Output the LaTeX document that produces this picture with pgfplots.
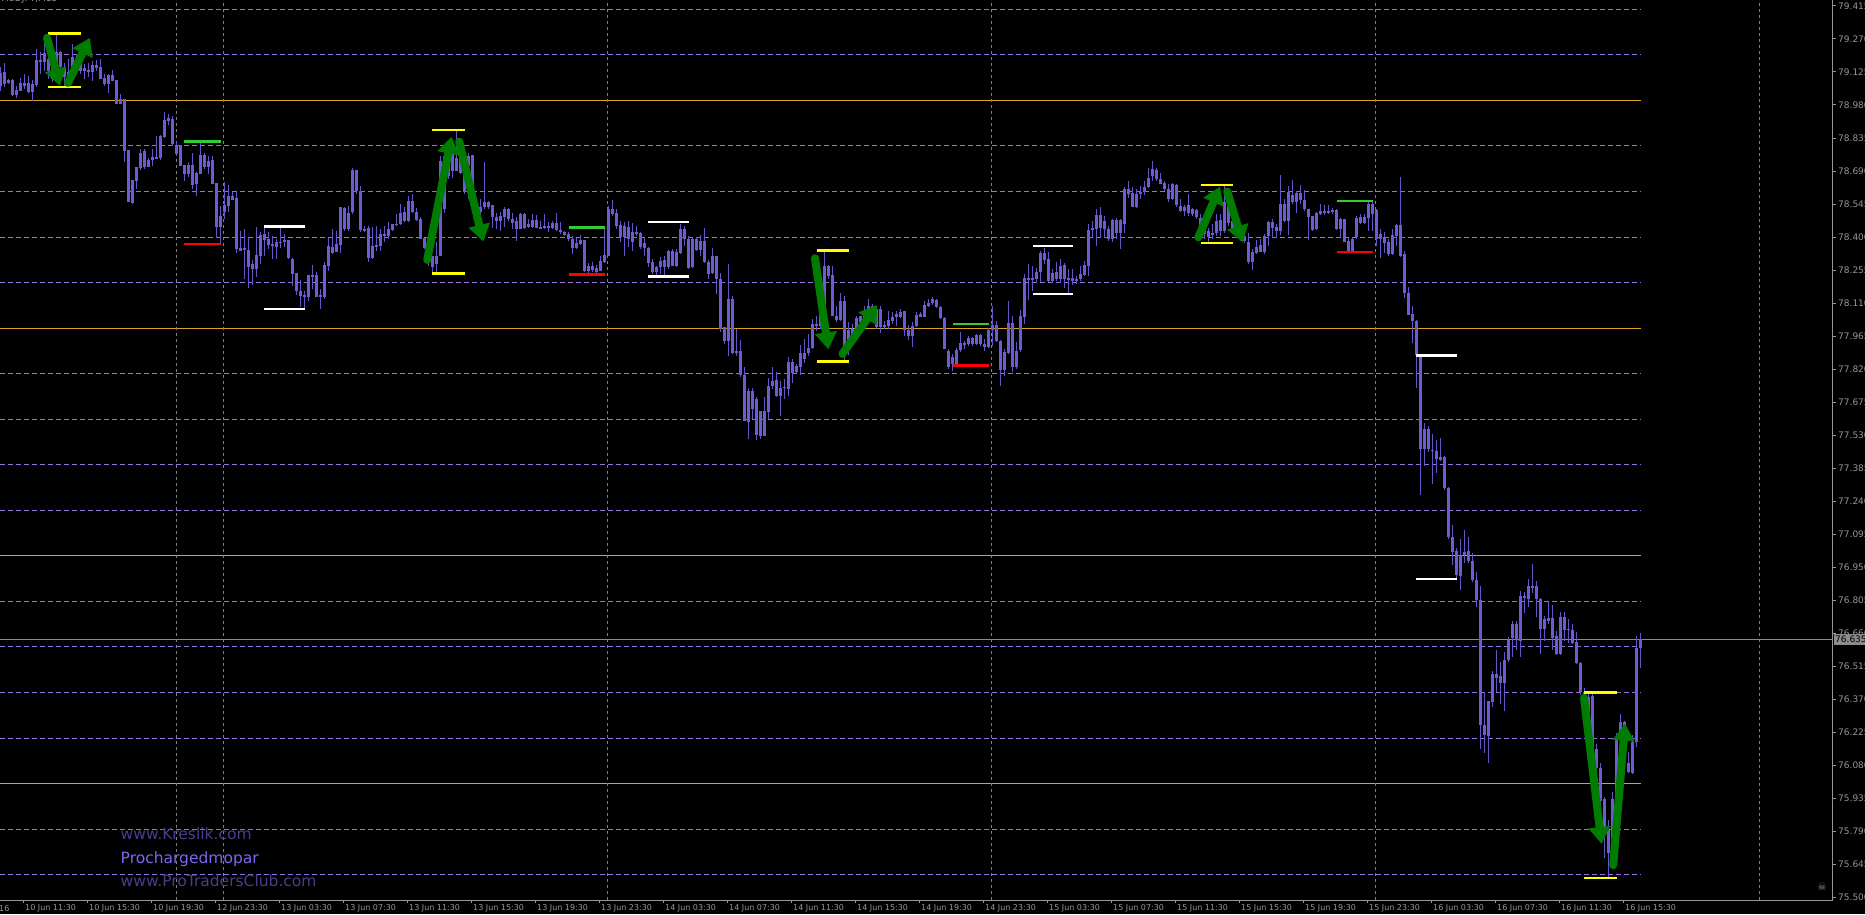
\documentclass[border=0pt]{standalone}
\usepackage{fontspec}
\setmainfont{DejaVu Sans}
\usepackage{pgfplots}
\pgfplotsset{compat=1.18}
\usepackage{pgfplotstable}
\usetikzlibrary{arrows.meta}
\pgfdeclarelayer{background}
\pgfsetlayers{background,main}

\definecolor{candle}{RGB}{100,86,200}
\definecolor{candlebody}{RGB}{106,92,212}
\definecolor{gridpurple}{RGB}{147,112,219}
\definecolor{goldline}{RGB}{218,165,32}
\definecolor{sepgray}{RGB}{128,128,128}
\definecolor{axgray}{RGB}{150,150,150}
\definecolor{priceg}{RGB}{140,140,140}
\definecolor{arrowgreen}{RGB}{0,125,0}
\definecolor{lvlgreen}{RGB}{50,205,50}
\definecolor{lvlred}{RGB}{255,0,0}
\definecolor{lvlyellow}{RGB}{255,255,0}
\definecolor{lvlwhite}{RGB}{255,255,255}
\definecolor{kres}{RGB}{72,61,139}
\definecolor{proch}{RGB}{123,104,238}

% i = bar index (15 min), h = high, l = low, o/c = body ends
\pgfplotstableread{
i h l o c
0 79.146 79.043 79.121 79.062
1 79.167 79.058 79.127 79.072
2 79.094 79.072 79.090 79.077
3 79.094 79.021 79.090 79.026
4 79.062 79.011 79.046 79.026
5 79.097 79.043 79.077 79.043
6 79.116 79.053 79.077 79.062
7 79.109 79.036 79.077 79.040
8 79.090 78.999 79.071 79.039
9 79.226 79.062 79.178 79.068
10 79.211 79.116 79.178 79.170
11 79.255 79.131 79.208 79.170
12 79.211 79.094 79.182 79.131
13 79.189 79.080 79.153 79.094
14 79.293 79.131 79.211 79.146
15 79.219 79.094 79.211 79.146
16 79.167 79.059 79.146 79.102
17 79.182 79.059 79.124 79.080
18 79.248 79.109 79.189 79.138
19 79.204 79.131 79.182 79.153
20 79.175 79.116 79.160 79.131
21 79.160 79.094 79.143 79.131
22 79.167 79.102 79.135 79.127
23 79.172 79.083 79.156 79.127
24 79.178 79.131 79.156 79.143
25 79.182 79.094 79.146 79.094
26 79.116 79.065 79.099 79.072
27 79.116 79.033 79.112 79.072
28 79.134 79.087 79.112 79.087
29 79.090 78.985 79.090 78.985
30 79.028 78.985 79.007 78.985
31 79.007 78.729 79.007 78.780
32 78.783 78.556 78.783 78.556
33 78.651 78.546 78.651 78.550
34 78.707 78.612 78.707 78.648
35 78.787 78.696 78.772 78.704
36 78.787 78.699 78.780 78.707
37 78.746 78.707 78.739 78.710
38 78.787 78.714 78.751 78.739
39 78.846 78.746 78.751 78.746
40 78.849 78.739 78.843 78.748
41 78.952 78.838 78.914 78.838
42 78.941 78.892 78.923 78.911
43 78.933 78.802 78.919 78.809
44 78.819 78.761 78.806 78.765
45 78.806 78.714 78.806 78.714
46 78.717 78.648 78.717 78.677
47 78.729 78.663 78.717 78.677
48 78.772 78.612 78.717 78.631
49 78.685 78.582 78.682 78.633
50 78.813 78.677 78.761 78.677
51 78.770 78.702 78.761 78.707
52 78.758 78.677 78.736 78.707
53 78.758 78.633 78.739 78.633
54 78.638 78.399 78.638 78.446
55 78.538 78.377 78.492 78.446
56 78.644 78.480 78.541 78.509
57 78.629 78.509 78.579 78.535
58 78.600 78.563 78.582 78.563
59 78.600 78.331 78.571 78.348
60 78.429 78.341 78.351 78.341
61 78.436 78.217 78.351 78.345
62 78.395 78.176 78.344 78.268
63 78.301 78.190 78.285 78.260
64 78.443 78.224 78.322 78.260
65 78.421 78.282 78.410 78.319
66 78.454 78.319 78.414 78.389
67 78.421 78.348 78.392 78.366
68 78.404 78.304 78.370 78.363
69 78.392 78.304 78.377 78.356
70 78.443 78.351 78.380 78.375
71 78.414 78.356 78.389 78.377
72 78.389 78.304 78.389 78.307
73 78.307 78.187 78.307 78.238
74 78.243 78.146 78.243 78.165
75 78.214 78.092 78.165 78.143
76 78.165 78.085 78.148 78.140
77 78.234 78.121 78.234 78.140
78 78.278 78.173 78.234 78.228
79 78.249 78.136 78.234 78.140
80 78.173 78.085 78.146 78.136
81 78.293 78.129 78.278 78.136
82 78.395 78.253 78.360 78.275
83 78.436 78.326 78.356 78.331
84 78.429 78.334 78.370 78.334
85 78.535 78.333 78.535 78.367
86 78.535 78.428 78.528 78.436
87 78.538 78.428 78.504 78.436
88 78.702 78.501 78.694 78.509
89 78.694 78.592 78.694 78.604
90 78.623 78.424 78.604 78.431
91 78.450 78.421 78.436 78.428
92 78.450 78.289 78.439 78.311
93 78.446 78.307 78.363 78.311
94 78.450 78.341 78.365 78.360
95 78.436 78.338 78.414 78.360
96 78.450 78.380 78.414 78.406
97 78.468 78.392 78.436 78.406
98 78.458 78.428 78.458 78.433
99 78.501 78.450 78.458 78.455
100 78.545 78.453 78.509 78.458
101 78.535 78.468 78.509 78.472
102 78.582 78.468 78.557 78.472
103 78.592 78.509 78.557 78.512
104 78.531 78.472 78.509 78.477
105 78.487 78.392 78.480 78.395
106 78.399 78.348 78.395 78.355
107 78.370 78.275 78.363 78.304
108 78.319 78.240 78.319 78.268
109 78.377 78.246 78.319 78.282
110 78.757 78.319 78.735 78.319
111 78.772 78.509 78.757 78.523
112 78.823 78.655 78.787 78.670
113 78.816 78.662 78.787 78.692
114 78.871 78.692 78.750 78.692
115 78.801 78.677 78.787 78.684
116 78.728 78.589 78.713 78.597
117 78.772 78.567 78.757 78.713
118 78.760 78.538 78.760 78.553
119 78.567 78.494 78.553 78.509
120 78.567 78.480 78.531 78.509
121 78.731 78.523 78.553 78.531
122 78.560 78.523 78.553 78.531
123 78.541 78.443 78.541 78.487
124 78.509 78.436 78.491 78.472
125 78.509 78.428 78.494 78.472
126 78.531 78.443 78.523 78.487
127 78.531 78.472 78.523 78.480
128 78.509 78.436 78.480 78.462
129 78.487 78.384 78.469 78.436
130 78.509 78.436 78.501 78.436
131 78.509 78.436 78.501 78.439
132 78.480 78.443 78.458 78.446
133 78.501 78.443 78.477 78.446
134 78.497 78.439 78.477 78.443
135 78.472 78.436 78.446 78.440
136 78.501 78.436 78.450 78.443
137 78.468 78.421 78.450 78.443
138 78.472 78.436 78.462 78.439
139 78.506 78.428 78.462 78.433
140 78.465 78.414 78.431 78.421
141 78.428 78.404 78.421 78.409
142 78.424 78.384 78.414 78.392
143 78.406 78.326 78.392 78.355
144 78.399 78.348 78.374 78.355
145 78.409 78.363 78.389 78.370
146 78.389 78.246 78.389 78.249
147 78.289 78.238 78.275 78.253
148 78.292 78.246 78.275 78.257
149 78.279 78.243 78.265 78.250
150 78.319 78.249 78.297 78.253
151 78.443 78.289 78.322 78.292
152 78.538 78.319 78.523 78.319
153 78.563 78.494 78.523 78.501
154 78.523 78.436 78.506 78.450
155 78.472 78.377 78.453 78.399
156 78.468 78.316 78.450 78.399
157 78.472 78.355 78.446 78.392
158 78.462 78.341 78.421 78.380
159 78.450 78.406 78.421 78.417
160 78.421 78.348 78.417 78.355
161 78.395 78.316 78.377 78.351
162 78.355 78.268 78.351 78.285
163 78.307 78.238 78.289 78.246
164 78.275 78.231 78.268 78.246
165 78.311 78.238 78.297 78.268
166 78.319 78.231 78.300 78.268
167 78.345 78.260 78.341 78.268
168 78.348 78.272 78.341 78.275
169 78.348 78.268 78.333 78.275
170 78.457 78.326 78.435 78.330
171 78.450 78.362 78.435 78.391
172 78.403 78.260 78.394 78.264
173 78.399 78.263 78.394 78.267
174 78.403 78.340 78.391 78.344
175 78.409 78.318 78.384 78.344
176 78.438 78.285 78.384 78.289
177 78.299 78.216 78.292 78.238
178 78.352 78.238 78.318 78.241
179 78.318 78.150 78.318 78.216
180 78.241 77.982 78.216 77.997
181 78.004 77.931 78.004 77.946
182 78.282 77.880 78.128 77.946
183 78.143 77.888 78.128 77.892
184 77.997 77.880 77.902 77.892
185 77.949 77.785 77.902 77.793
186 77.829 77.591 77.793 77.591
187 77.737 77.515 77.723 77.588
188 77.737 77.603 77.727 77.647
189 77.698 77.511 77.688 77.530
190 77.639 77.515 77.639 77.530
191 77.698 77.527 77.639 77.530
192 77.781 77.603 77.746 77.632
193 77.829 77.734 77.771 77.746
194 77.810 77.698 77.771 77.702
195 77.771 77.617 77.737 77.702
196 77.778 77.690 77.744 77.737
197 77.873 77.705 77.851 77.734
198 77.866 77.760 77.851 77.804
199 77.844 77.804 77.834 77.810
200 77.927 77.793 77.892 77.829
201 77.953 77.851 77.892 77.866
202 77.975 77.880 77.914 77.892
203 78.041 77.909 78.019 77.912
204 78.055 77.990 78.019 78.012
205 78.070 77.997 78.070 78.012
206 78.340 78.055 78.274 78.070
207 78.277 78.216 78.274 78.231
208 78.274 78.055 78.234 78.055
209 78.099 78.026 78.055 78.038
210 78.153 78.034 78.121 78.038
211 78.143 77.854 78.121 77.895
212 78.026 77.880 77.990 77.909
213 78.019 77.953 77.997 77.968
214 78.055 77.990 78.044 77.997
215 78.055 77.997 78.055 78.026
216 78.099 78.026 78.070 78.041
217 78.126 78.070 78.099 78.070
218 78.107 78.063 78.099 78.085
219 78.099 77.997 78.082 78.004
220 78.099 77.980 78.085 78.004
221 78.034 77.997 78.012 78.004
222 78.077 77.997 78.038 78.009
223 78.070 78.019 78.051 78.034
224 78.077 78.012 78.063 78.051
225 78.085 78.048 78.074 78.052
226 78.077 77.968 78.074 77.990
227 78.012 77.946 77.993 77.968
228 78.026 77.917 78.012 77.968
229 78.070 78.004 78.060 78.012
230 78.070 78.048 78.063 78.051
231 78.121 78.048 78.102 78.051
232 78.128 78.092 78.111 78.099
233 78.139 78.102 78.128 78.111
234 78.128 78.088 78.124 78.092
235 78.099 78.041 78.092 78.044
236 78.048 77.909 78.044 77.909
237 77.909 77.822 77.902 77.829
238 77.888 77.810 77.873 77.844
239 77.912 77.836 77.905 77.836
240 77.985 77.895 77.936 77.902
241 77.946 77.909 77.936 77.924
242 77.968 77.924 77.956 77.931
243 77.961 77.924 77.956 77.931
244 77.975 77.924 77.968 77.931
245 77.975 77.921 77.968 77.931
246 77.953 77.902 77.931 77.917
247 78.000 77.912 77.994 77.917
248 78.099 77.924 78.012 77.994
249 78.031 77.939 78.012 77.942
250 77.946 77.746 77.942 77.815
251 77.909 77.790 77.895 77.815
252 78.121 77.888 78.023 77.892
253 78.055 77.807 78.023 77.829
254 77.939 77.822 77.902 77.829
255 78.080 77.898 78.055 77.902
256 78.238 78.019 78.220 78.051
257 78.282 78.126 78.223 78.216
258 78.274 78.165 78.223 78.216
259 78.267 78.201 78.245 78.216
260 78.340 78.201 78.330 78.245
261 78.355 78.282 78.330 78.301
262 78.333 78.201 78.304 78.209
263 78.260 78.201 78.242 78.209
264 78.289 78.209 78.245 78.216
265 78.304 78.201 78.274 78.216
266 78.289 78.180 78.277 78.216
267 78.260 78.155 78.219 78.216
268 78.260 78.190 78.219 78.209
269 78.231 78.194 78.216 78.209
270 78.274 78.209 78.238 78.216
271 78.296 78.231 78.277 78.234
272 78.457 78.231 78.431 78.272
273 78.472 78.399 78.439 78.432
274 78.523 78.362 78.496 78.435
275 78.534 78.394 78.496 78.439
276 78.493 78.399 78.469 78.435
277 78.450 78.384 78.435 78.391
278 78.479 78.380 78.474 78.391
279 78.486 78.391 78.474 78.420
280 78.479 78.347 78.474 78.420
281 78.618 78.420 78.613 78.460
282 78.647 78.574 78.613 78.588
283 78.618 78.530 78.596 78.534
284 78.610 78.530 78.591 78.534
285 78.625 78.566 78.600 78.588
286 78.647 78.588 78.622 78.599
287 78.705 78.618 78.661 78.622
288 78.734 78.647 78.698 78.669
289 78.705 78.647 78.693 78.654
290 78.683 78.632 78.657 78.635
291 78.647 78.603 78.637 78.613
292 78.632 78.552 78.613 78.569
293 78.639 78.566 78.635 78.569
294 78.632 78.534 78.628 78.540
295 78.566 78.508 78.540 78.515
296 78.540 78.493 78.534 78.515
297 78.588 78.493 78.540 78.508
298 78.530 78.493 78.523 78.501
299 78.523 78.479 78.518 78.486
300 78.501 78.420 78.486 78.435
301 78.464 78.391 78.450 78.413
302 78.442 78.375 78.428 78.399
303 78.457 78.391 78.420 78.409
304 78.501 78.403 78.472 78.420
305 78.501 78.403 78.476 78.428
306 78.629 78.420 78.552 78.428
307 78.566 78.450 78.537 78.464
308 78.493 78.413 78.472 78.428
309 78.457 78.399 78.450 78.413
310 78.435 78.384 78.428 78.406
311 78.413 78.377 78.406 78.384
312 78.418 78.282 78.377 78.292
313 78.347 78.257 78.336 78.292
314 78.388 78.326 78.359 78.333
315 78.391 78.333 78.365 78.336
316 78.413 78.326 78.403 78.336
317 78.472 78.362 78.467 78.403
318 78.479 78.399 78.467 78.442
319 78.457 78.399 78.447 78.428
320 78.672 78.409 78.545 78.428
321 78.566 78.467 78.545 78.472
322 78.625 78.409 78.596 78.472
323 78.651 78.545 78.588 78.555
324 78.603 78.508 78.596 78.555
325 78.632 78.545 78.596 78.563
326 78.607 78.515 78.566 78.523
327 78.526 78.388 78.523 78.491
328 78.496 78.428 78.493 78.432
329 78.508 78.432 78.505 78.435
330 78.545 78.496 78.515 78.501
331 78.540 78.496 78.515 78.508
332 78.540 78.501 78.515 78.508
333 78.530 78.501 78.518 78.508
334 78.523 78.432 78.518 78.435
335 78.486 78.399 78.479 78.435
336 78.482 78.377 78.479 78.380
337 78.399 78.336 78.384 78.340
338 78.399 78.336 78.394 78.340
339 78.493 78.391 78.486 78.399
340 78.501 78.457 78.489 78.461
341 78.501 78.457 78.489 78.461
342 78.552 78.428 78.545 78.486
343 78.559 78.428 78.545 78.501
344 78.523 78.362 78.518 78.394
345 78.435 78.311 78.413 78.391
346 78.423 78.333 78.403 78.377
347 78.391 78.318 78.377 78.326
348 78.438 78.321 78.409 78.326
349 78.457 78.362 78.453 78.406
350 78.664 78.312 78.453 78.318
351 78.339 78.131 78.328 78.156
352 78.183 78.059 78.156 78.059
353 78.100 77.935 78.063 78.034
354 78.038 77.738 78.034 77.883
355 77.883 77.267 77.883 77.468
356 77.586 77.396 77.557 77.468
357 77.572 77.458 77.557 77.468
358 77.537 77.317 77.468 77.462
359 77.510 77.365 77.462 77.427
360 77.516 77.416 77.437 77.423
361 77.441 77.292 77.433 77.298
362 77.302 77.074 77.298 77.085
363 77.136 76.960 77.085 77.016
364 77.033 76.902 77.022 76.915
365 77.074 76.852 77.006 76.915
366 77.116 76.971 77.018 77.006
367 77.085 76.971 77.022 76.977
368 77.012 76.888 76.977 76.894
369 76.929 76.774 76.894 76.805
370 76.867 76.152 76.805 76.260
371 76.401 76.135 76.260 76.214
372 76.363 76.090 76.363 76.210
373 76.494 76.338 76.483 76.359
374 76.587 76.401 76.483 76.467
375 76.535 76.349 76.473 76.442
376 76.577 76.318 76.542 76.442
377 76.645 76.535 76.633 76.542
378 76.716 76.556 76.701 76.639
379 76.712 76.587 76.701 76.629
380 76.846 76.556 76.826 76.629
381 76.840 76.749 76.826 76.815
382 76.898 76.778 76.867 76.811
383 76.964 76.840 76.867 76.861
384 76.888 76.732 76.867 76.811
385 76.815 76.571 76.811 76.680
386 76.736 76.629 76.722 76.680
387 76.799 76.701 76.728 76.716
388 76.784 76.587 76.728 76.639
389 76.670 76.566 76.649 76.571
390 76.753 76.566 76.732 76.571
391 76.753 76.629 76.732 76.674
392 76.722 76.618 76.680 76.674
393 76.701 76.612 76.674 76.618
394 76.666 76.525 76.624 76.529
395 76.535 76.390 76.529 76.401
396 76.421 76.359 76.401 76.380
397 76.401 76.235 76.380 76.255
398 76.401 76.131 76.384 76.152
399 76.173 76.048 76.152 76.069
400 76.090 75.882 76.069 75.924
401 75.944 75.675 75.934 75.799
402 75.841 75.586 75.799 75.696
403 75.965 75.696 75.934 75.758
404 76.224 75.913 76.193 75.924
405 76.307 76.183 76.272 76.193
406 76.276 76.235 76.272 76.255
407 76.141 76.048 76.090 76.052
408 76.214 76.044 76.183 76.048
409 76.649 76.162 76.597 76.183
410 76.660 76.508 76.635 76.597
}\candles

\begin{document}
\begin{tikzpicture}[x=1pt,y=1pt]
\begin{axis}[
  scale only axis, width=1833pt, height=900pt,
  xmin=-0.2, xmax=458.05, ymin=75.489, ymax=79.441,
  axis x line*=bottom, axis y line*=right,
  axis line style={draw=axgray, line width=1pt},
  clip mode=individual,
  tick align=outside, major tick length=3pt,
  tick style={draw=axgray, line width=1pt},
  xtick={5.8,21.8,37.8,53.8,69.8,85.8,101.8,117.8,133.8,149.8,165.8,181.8,197.8,213.8,229.8,245.8,261.8,277.8,293.8,309.8,325.8,341.8,357.8,373.8,389.8,405.8},
  xticklabels={10 Jun 11:30,10 Jun 15:30,10 Jun 19:30,12 Jun 23:30,13 Jun 03:30,13 Jun 07:30,13 Jun 11:30,13 Jun 15:30,13 Jun 19:30,13 Jun 23:30,14 Jun 03:30,14 Jun 07:30,14 Jun 11:30,14 Jun 15:30,14 Jun 19:30,14 Jun 23:30,15 Jun 03:30,15 Jun 07:30,15 Jun 11:30,15 Jun 15:30,15 Jun 19:30,15 Jun 23:30,16 Jun 03:30,16 Jun 07:30,16 Jun 11:30,16 Jun 15:30},
  xticklabel style={anchor=north west, inner sep=1pt, font=\fontsize{8}{8}\selectfont, text=axgray},
  ytick={75.5,75.645,75.79,75.935,76.08,76.225,76.37,76.515,76.66,76.805,76.95,77.095,77.24,77.385,77.53,77.675,77.82,77.965,78.11,78.255,78.4,78.545,78.69,78.835,78.98,79.125,79.27,79.415},
  yticklabel style={anchor=west, inner sep=2pt, font=\fontsize{9}{9}\selectfont, text=axgray,
    /pgf/number format/.cd, fixed, fixed zerofill, precision=3, assume math mode=true},
]
% horizontal levels
\pgfplotsinvokeforeach{79.4,79.2,78.8,78.6,78.4,78.2,77.8,77.6,77.4,77.2,76.8,76.6,76.4,76.2,75.8,75.6}{
  \addplot[gridpurple, line width=1pt, dash pattern=on 5pt off 3pt, forget plot] coordinates {(-0.2,#1) (410.1,#1)};
}
\pgfplotsinvokeforeach{79.0,78.0,77.0,76.0}{
  \addplot[goldline, line width=1pt, forget plot] coordinates {(-0.2,#1) (410.1,#1)};
}
% day separators
\pgfplotsinvokeforeach{44.05,55.8,151.8,247.8,343.8,439.8}{
  \addplot[sepgray, line width=1pt, dash pattern=on 3pt off 3pt, forget plot] coordinates {(#1,75.489) (#1,79.441)};
}
% price line
\addplot[priceg, line width=1pt] coordinates {(-0.2,76.635) (458.05,76.635)};
% candle wicks
\addplot[draw=none, forget plot, error bars/.cd, y dir=both, y explicit, error mark=none,
  error bar style={draw=candle, line width=1pt}]
  table[x=i, y expr=(\thisrow{h}+\thisrow{l})/2, y error expr=(\thisrow{h}-\thisrow{l})/2]{\candles};
% candle bodies
\addplot[draw=none, forget plot, error bars/.cd, y dir=both, y explicit, error mark=none,
  error bar style={draw=candlebody, line width=3pt}]
  table[x=i, y expr=(\thisrow{o}+\thisrow{c})/2, y error expr={max(abs(\thisrow{o}-\thisrow{c})/2,0.0022)}]{\candles};
% level markers
\addplot[lvlyellow, line width=2.5pt] coordinates {(11.8,79.293) (20.05,79.293)};
\addplot[lvlyellow, line width=2.5pt] coordinates {(11.8,79.059) (20.05,79.059)};
\addplot[lvlgreen, line width=2.5pt] coordinates {(45.9,78.819) (55.0,78.819)};
\addplot[lvlred, line width=2.5pt] coordinates {(45.9,78.370) (55.0,78.370)};
\addplot[lvlwhite, line width=2.5pt] coordinates {(65.9,78.446) (76.05,78.446)};
\addplot[lvlwhite, line width=2.5pt] coordinates {(65.9,78.085) (76.05,78.085)};
\addplot[lvlyellow, line width=2.5pt] coordinates {(107.9,78.871) (116.05,78.871)};
\addplot[lvlyellow, line width=2.5pt] coordinates {(107.9,78.240) (116.05,78.240)};
\addplot[lvlgreen, line width=2.5pt] coordinates {(142.0,78.442) (151.0,78.442)};
\addplot[lvlred, line width=2.5pt] coordinates {(142.0,78.235) (151.0,78.235)};
\addplot[lvlwhite, line width=2.5pt] coordinates {(161.9,78.467) (172.0,78.467)};
\addplot[lvlwhite, line width=2.5pt] coordinates {(161.9,78.227) (172.0,78.227)};
\addplot[lvlyellow, line width=2.5pt] coordinates {(204.0,78.340) (212.0,78.340)};
\addplot[lvlyellow, line width=2.5pt] coordinates {(204.0,77.854) (212.0,77.854)};
\addplot[lvlgreen, line width=2.5pt] coordinates {(238.0,78.019) (247.0,78.019)};
\addplot[lvlred, line width=2.5pt] coordinates {(238.0,77.835) (247.0,77.835)};
\addplot[lvlwhite, line width=2.5pt] coordinates {(258.0,78.361) (268.0,78.361)};
\addplot[lvlwhite, line width=2.5pt] coordinates {(258.0,78.150) (268.0,78.150)};
\addplot[lvlyellow, line width=2.5pt] coordinates {(300.0,78.629) (308.0,78.629)};
\addplot[lvlyellow, line width=2.5pt] coordinates {(300.0,78.375) (308.0,78.375)};
\addplot[lvlgreen, line width=2.5pt] coordinates {(334.0,78.559) (343.0,78.559)};
\addplot[lvlred, line width=2.5pt] coordinates {(334.0,78.334) (343.0,78.334)};
\addplot[lvlwhite, line width=2.5pt] coordinates {(353.8,77.879) (364.0,77.879)};
\addplot[lvlwhite, line width=2.5pt] coordinates {(353.8,76.898) (364.0,76.898)};
\addplot[lvlyellow, line width=2.5pt] coordinates {(395.8,76.401) (404.0,76.401)};
\addplot[lvlyellow, line width=2.5pt] coordinates {(395.8,75.586) (404.0,75.586)};
% arrows
\pgfplotsset{greenarrow/.style={arrowgreen, line width=8pt, line cap=round, -{Triangle[width=21pt,length=17pt]}}}
\addplot[greenarrow] coordinates {(11.55,79.275) (14.8,79.064)};
\addplot[greenarrow] coordinates {(16.8,79.077) (22.3,79.275)};
\addplot[greenarrow] coordinates {(106.6,78.300) (112.7,78.841)};
\addplot[greenarrow] coordinates {(114.6,78.819) (120.6,78.380)};
\addplot[greenarrow] coordinates {(203.55,78.307) (206.9,77.907)};
\addplot[greenarrow] coordinates {(210.4,77.887) (219.1,78.102)};
\addplot[greenarrow] coordinates {(299.4,78.399) (304.8,78.622)};
\addplot[greenarrow] coordinates {(306.6,78.600) (310.5,78.376)};
\addplot[greenarrow] coordinates {(395.8,76.377) (400.2,75.735)};
\addplot[greenarrow] coordinates {(403.1,75.642) (406.05,76.263)};
% current price box
\node[fill=priceg, text=black, anchor=west, inner sep=1pt, minimum height=11pt, xshift=1pt,
  font=\fontsize{9}{9}\selectfont] at (axis cs:458.05,76.635) {76.635};
\coordinate (bl) at (rel axis cs:0,0);
\end{axis}
\pgfresetboundingbox
\begin{scope}[shift={(bl)}, yshift=-14pt]
\path[use as bounding box] (0,0) rectangle (1865,914);
\begin{pgfonlayer}{background}
\fill[black] (0,0) rectangle (1865,914);
\end{pgfonlayer}
\node[anchor=north west, inner sep=1pt, font=\fontsize{8}{8}\selectfont, text=axgray] at (-2,10) {16};
\node[anchor=base west, inner sep=0pt, font=\fontsize{9}{9}\selectfont, text=axgray] at (2,912) {AUDJPY,M15};
\node[anchor=base west, inner sep=0pt, font=\fontsize{15.5}{16}\selectfont, text=kres] at (120.5,74.7) {www.Kreslik.com};
\node[anchor=base west, inner sep=0pt, font=\fontsize{15.5}{16}\selectfont, text=proch] at (120.5,50.7) {Prochargedmopar};
\node[anchor=base west, inner sep=0pt, font=\fontsize{15.5}{16}\selectfont, text=kres] at (120.5,28) {www.ProTradersClub.com};
\node[text=axgray, inner sep=0pt, font=\fontsize{10}{10}\selectfont] at (1822,27) {☠};
\end{scope}
\end{tikzpicture}
\end{document}
